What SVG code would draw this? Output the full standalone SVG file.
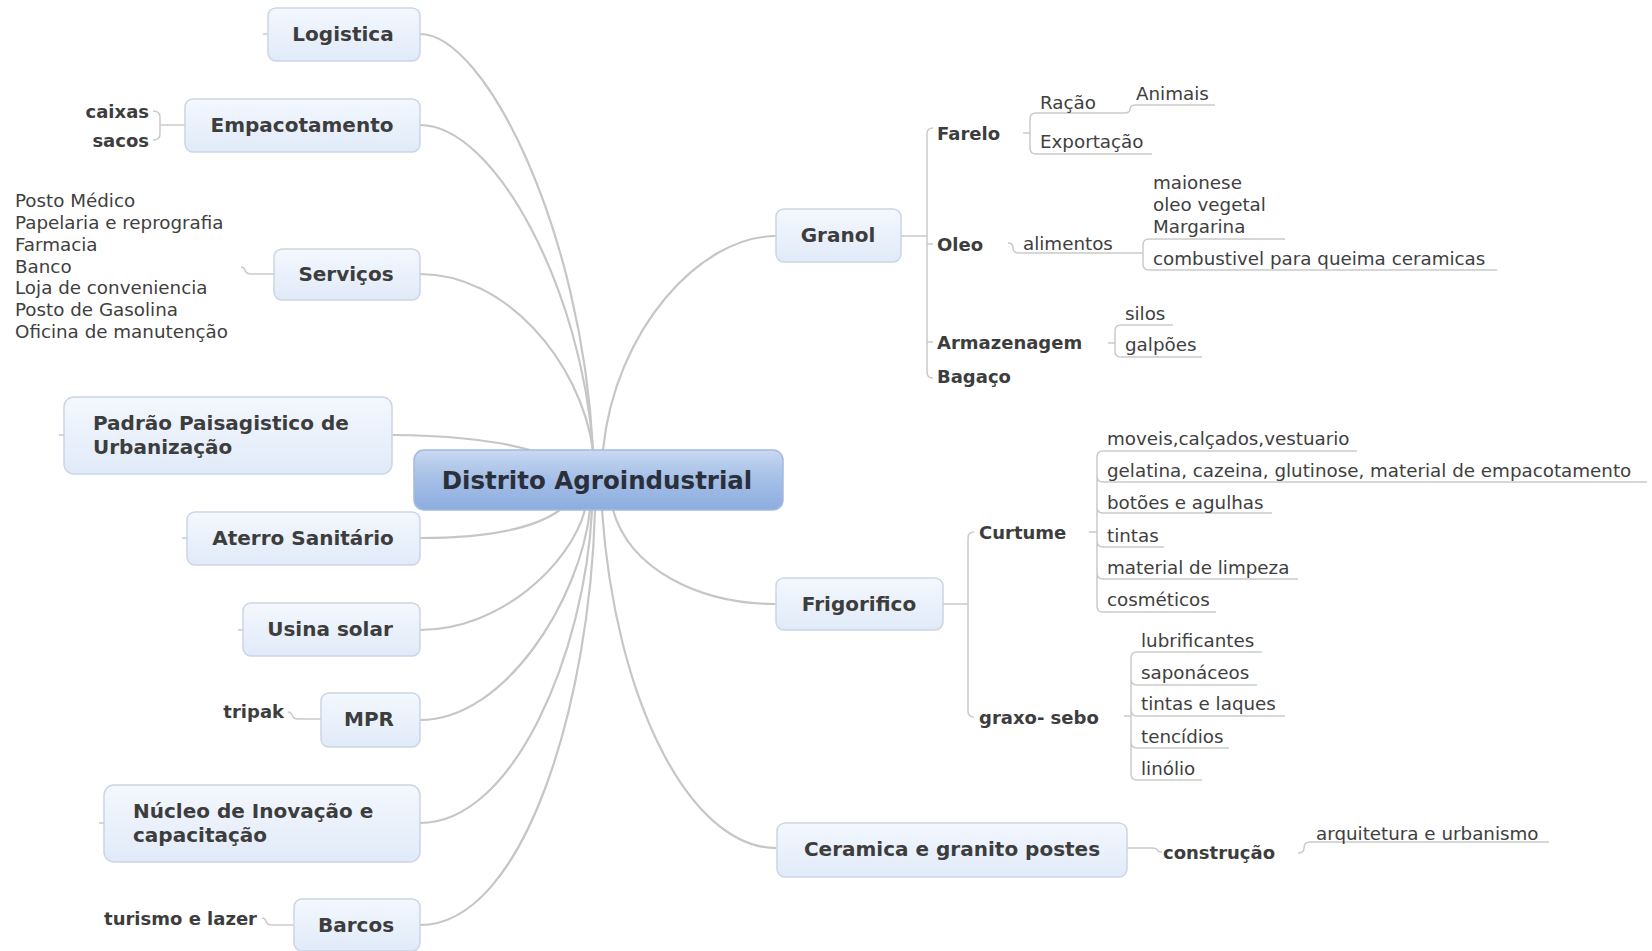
<svg xmlns="http://www.w3.org/2000/svg" width="1652" height="951" viewBox="0 0 1652 951">
<defs>
<linearGradient id="gBox" x1="0" y1="0" x2="0" y2="1">
<stop offset="0" stop-color="#f4f8fe"/>
<stop offset="1" stop-color="#e0eaf8"/>
</linearGradient>
<linearGradient id="gMain" x1="0" y1="0" x2="0" y2="1">
<stop offset="0" stop-color="#c9d9f1"/>
<stop offset="0.45" stop-color="#a6c0e7"/>
<stop offset="1" stop-color="#8dade0"/>
</linearGradient>
<style>
.box{fill:url(#gBox);stroke:#cbd5e3;stroke-width:1.5}
.main{fill:url(#gMain);stroke:#a3bade;stroke-width:1.5}
.t1{font-family:"DejaVu Sans",Verdana,sans-serif;font-weight:bold;font-size:20px;fill:#3d3d3d;dominant-baseline:central}
.t0{font-family:"DejaVu Sans",Verdana,sans-serif;font-weight:bold;font-size:24.5px;fill:#2b2f3a;dominant-baseline:central}
.tb{font-family:"DejaVu Sans",Verdana,sans-serif;font-weight:bold;font-size:18px;fill:#3d3d3d;dominant-baseline:central}
.tr{font-family:"DejaVu Sans",Verdana,sans-serif;font-size:18.3px;fill:#404040;dominant-baseline:central}
.c{fill:none;stroke:#c6c6c6;stroke-width:2.2}
.s{fill:none;stroke:#cacaca;stroke-width:1.5}
</style>
</defs>
<rect width="1652" height="951" fill="#ffffff"/>
<g id="connectors">
<path class="c" d="M420,34 C485,34 582,230 593,450"/>
<path class="c" d="M420,125 C495,125 582,290 593,450"/>
<path class="c" d="M420,274 C505,274 580,360 593,450"/>
<path class="c" d="M392,435 C440,435 495,440 530,450"/>
<path class="c" d="M420,538 C490,538 535,528 560,510"/>
<path class="c" d="M420,630 C500,630 570,565 585,510"/>
<path class="c" d="M420,720 C505,720 580,600 590,510"/>
<path class="c" d="M420,823 C515,823 585,650 592,510"/>
<path class="c" d="M420,925 C525,925 590,700 595,510"/>
<path class="c" d="M776,236 C700,236 615,330 603,450"/>
<path class="c" d="M776,604 C700,604 630,570 613,510"/>
<path class="c" d="M776,848 C690,848 615,700 602,510"/>
<path class="s" d="M263,34 H269 M59,435 H64 M182,538 H187 M238,630 H243 M99,823 H104"/>
<path class="s" d="M186,125 H160 M153,111 Q160,111 160,117 V134 Q160,140 153,140"/>
<path class="s" d="M275,274 H251 Q246,274 245,270 Q244,267 241,267"/>
<path class="s" d="M321,719 H298 Q293,719 292,715 Q291,712 288,712"/>
<path class="s" d="M295,925 H272 Q267,925 266,921 Q265,918 262,918"/>
<path class="s" d="M901,236 H927 M933,128 Q927,128 927,134 V372 Q927,378 933,378 M927,244 H933 M927,342 H933"/>
<path class="s" d="M1023,133 H1030 M1036,113 Q1030,113 1030,119 V148 Q1030,154 1036,154 H1152 M1036,113 H1124 Q1130,113 1130,109 Q1130,105 1136,105 H1215"/>
<path class="s" d="M1008,243 Q1013,243 1013,248 Q1013,253 1019,253 H1143 M1149,239 Q1143,239 1143,245 V264 Q1143,270 1149,270 H1497 M1149,239 H1285"/>
<path class="s" d="M1108,343 H1115 M1121,325 Q1115,325 1115,331 V351 Q1115,357 1121,357 H1202 M1121,325 H1173"/>
<path class="s" d="M943,604 H968 M974,532 Q968,532 968,538 V711 Q968,717 974,717"/>
<path class="s" d="M1089,532 H1097 M1103,451 Q1097,451 1097,457 V606 Q1097,612 1103,612 H1216 M1103,451 H1357 M1097,476 Q1097,482 1103,482 H1647 M1097,507 Q1097,513 1103,513 H1272 M1097,541 Q1097,547 1103,547 H1164 M1097,573 Q1097,579 1103,579 H1298"/>
<path class="s" d="M1124,716 H1131 M1137,652 Q1131,652 1131,658 V774 Q1131,780 1137,780 H1202 M1137,652 H1262 M1131,679 Q1131,685 1137,685 H1257 M1131,710 Q1131,716 1137,716 H1285 M1131,742 Q1131,748 1137,748 H1229"/>
<path class="s" d="M1127,848 H1152 Q1157,848 1158,851 Q1159,852 1162,852"/>
<path class="s" d="M1298,853 Q1304,853 1304,848 Q1304,842 1310,842 H1549"/>
</g>
<g id="n-central">
<rect class="main" x="414" y="450" width="369" height="60" rx="10"/>
<text class="t0" x="597" y="480" text-anchor="middle">Distrito Agroindustrial</text>
</g>
<g id="n-logistica">
<rect class="box" x="268" y="8" width="152" height="53" rx="8"/>
<text class="t1" x="343" y="34" text-anchor="middle">Logistica</text>
</g>
<g id="n-empacotamento">
<rect class="box" x="185" y="99" width="235" height="53" rx="8"/>
<text class="t1" x="302" y="125" text-anchor="middle">Empacotamento</text>
<text class="tb" x="149" y="111" text-anchor="end">caixas</text>
<text class="tb" x="149" y="140" text-anchor="end">sacos</text>
</g>
<g id="n-servicos">
<rect class="box" x="274" y="249" width="146" height="51" rx="8"/>
<text class="t1" x="346" y="274" text-anchor="middle">Serviços</text>
<text class="tr" x="15" y="200">Posto Médico</text>
<text class="tr" x="15" y="222">Papelaria e reprografia</text>
<text class="tr" x="15" y="244">Farmacia</text>
<text class="tr" x="15" y="266">Banco</text>
<text class="tr" x="15" y="287">Loja de conveniencia</text>
<text class="tr" x="15" y="309">Posto de Gasolina</text>
<text class="tr" x="15" y="331">Oficina de manutenção</text>
</g>
<g id="n-padrao">
<rect class="box" x="64" y="397" width="328" height="77" rx="10"/>
<text class="t1" x="93" y="423">Padrão Paisagistico de</text>
<text class="t1" x="93" y="447">Urbanização</text>
</g>
<g id="n-aterro">
<rect class="box" x="187" y="512" width="233" height="53" rx="8"/>
<text class="t1" x="303" y="538" text-anchor="middle">Aterro Sanitário</text>
</g>
<g id="n-usina">
<rect class="box" x="243" y="603" width="177" height="53" rx="8"/>
<text class="t1" x="330" y="629" text-anchor="middle">Usina solar</text>
</g>
<g id="n-mpr">
<rect class="box" x="321" y="693" width="99" height="54" rx="8"/>
<text class="t1" x="369" y="719" text-anchor="middle">MPR</text>
<text class="tb" x="284" y="711" text-anchor="end">tripak</text>
</g>
<g id="n-nucleo">
<rect class="box" x="104" y="785" width="316" height="77" rx="10"/>
<text class="t1" x="133" y="811">Núcleo de Inovação e</text>
<text class="t1" x="133" y="835">capacitação</text>
</g>
<g id="n-barcos">
<rect class="box" x="294" y="899" width="126" height="52" rx="8"/>
<text class="t1" x="356" y="925" text-anchor="middle">Barcos</text>
<text class="tb" x="257" y="918" text-anchor="end">turismo e lazer</text>
</g>
<g id="n-granol">
<rect class="box" x="776" y="209" width="125" height="53" rx="8"/>
<text class="t1" x="838" y="235" text-anchor="middle">Granol</text>
<text class="tb" x="937" y="133">Farelo</text>
<text class="tr" x="1040" y="102">Ração</text>
<text class="tr" x="1136" y="93">Animais</text>
<text class="tr" x="1040" y="141">Exportação</text>
<text class="tb" x="937" y="244">Oleo</text>
<text class="tr" x="1023" y="243">alimentos</text>
<text class="tr" x="1153" y="182">maionese</text>
<text class="tr" x="1153" y="204">oleo vegetal</text>
<text class="tr" x="1153" y="226">Margarina</text>
<text class="tr" x="1153" y="258">combustivel para queima ceramicas</text>
<text class="tb" x="937" y="342">Armazenagem</text>
<text class="tr" x="1125" y="313">silos</text>
<text class="tr" x="1125" y="344">galpões</text>
<text class="tb" x="937" y="376">Bagaço</text>
</g>
<g id="n-frigorifico">
<rect class="box" x="776" y="578" width="167" height="52" rx="8"/>
<text class="t1" x="859" y="604" text-anchor="middle">Frigorifico</text>
<text class="tb" x="979" y="532">Curtume</text>
<text class="tr" x="1107" y="438">moveis,calçados,vestuario</text>
<text class="tr" x="1107" y="470">gelatina, cazeina, glutinose, material de empacotamento</text>
<text class="tr" x="1107" y="502">botões e agulhas</text>
<text class="tr" x="1107" y="535">tintas</text>
<text class="tr" x="1107" y="567">material de limpeza</text>
<text class="tr" x="1107" y="599">cosméticos</text>
<text class="tb" x="979" y="717">graxo- sebo</text>
<text class="tr" x="1141" y="640">lubrificantes</text>
<text class="tr" x="1141" y="672">saponáceos</text>
<text class="tr" x="1141" y="703">tintas e laques</text>
<text class="tr" x="1141" y="736">tencídios</text>
<text class="tr" x="1141" y="768">linólio</text>
</g>
<g id="n-ceramica">
<rect class="box" x="777" y="823" width="350" height="54" rx="8"/>
<text class="t1" x="952" y="849" text-anchor="middle">Ceramica e granito postes</text>
<text class="tb" x="1163" y="852">construção</text>
<text class="tr" x="1316" y="833">arquitetura e urbanismo</text>
</g>
</svg>
